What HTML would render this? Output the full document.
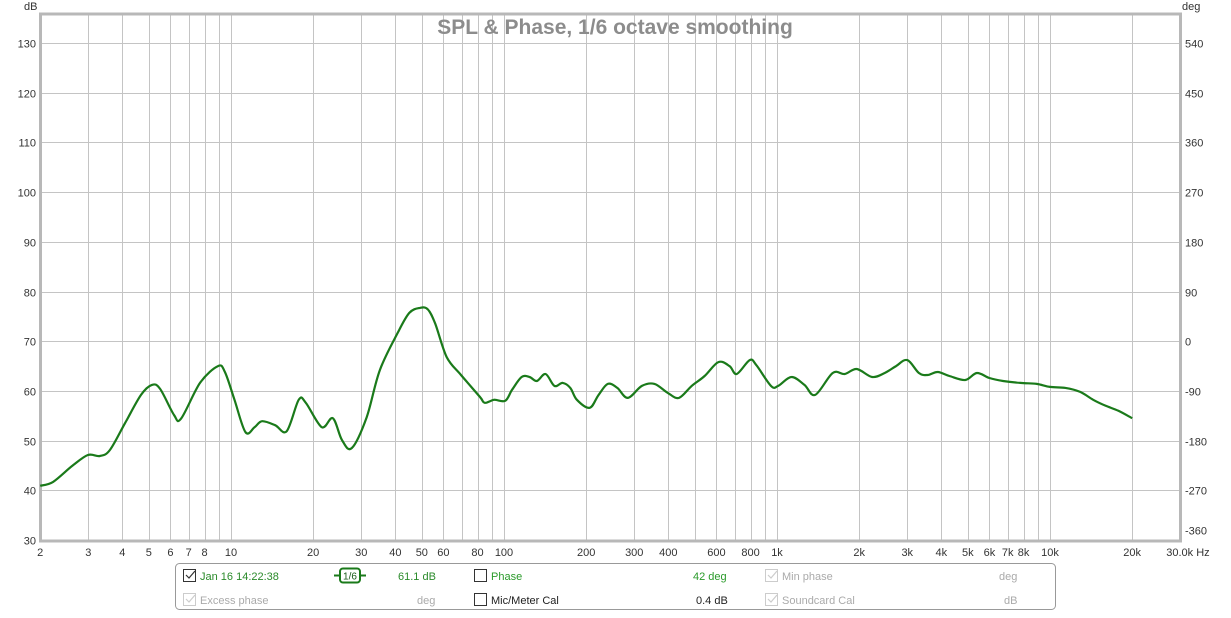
<!DOCTYPE html>
<html><head><meta charset="utf-8"><style>
body{margin:0;background:#fff;font-family:"Liberation Sans",sans-serif;}
svg text{font-family:"Liberation Sans",sans-serif;}
</style></head><body>
<svg id="chart" width="1231" height="613" xmlns="http://www.w3.org/2000/svg">
<rect x="0" y="0" width="1231" height="613" fill="#fff"/>
<g id="grid"></g>
<rect x="40.5" y="14" width="1140" height="527" fill="none" stroke="#b8b8b8" stroke-width="3"/>
<text x="615" y="34" text-anchor="middle" font-size="21" font-weight="bold" fill="#8c8c8c">SPL &amp; Phase, 1/6 octave smoothing</text>
<text x="24" y="10" font-size="11" fill="#333">dB</text>
<text x="1182" y="10" font-size="11" fill="#333">deg</text>
<g id="ylabels"></g>
<g id="y2labels"></g>
<g id="xlabels"></g>
<path id="spl" fill="none" stroke="#1a7a1a" stroke-width="2.2"/>
<g>
<rect x="175.5" y="563.5" width="880" height="46" rx="4" fill="#fff" stroke="#999"/>
<rect x="183.5" y="569.5" width="12" height="12" fill="#fff" stroke="#333"/>
<path d="M186 575 l3 3 l6 -7" fill="none" stroke="#333" stroke-width="1.2"/>
<text x="200" y="580" font-size="11" fill="#2a8a2a">Jan 16 14:22:38</text>
<g>
<line x1="334" y1="575.5" x2="366" y2="575.5" stroke="#1a7a1a" stroke-width="2"/>
<rect x="340" y="568.5" width="20" height="14" rx="3" fill="#fff" stroke="#1a7a1a" stroke-width="2"/>
<text x="350" y="579.5" font-size="10" text-anchor="middle" fill="#1a5a1a">1/6</text>
</g>
<text x="398" y="580" font-size="11" fill="#2a8a2a">61.1 dB</text>
<rect x="474.5" y="569.5" width="12" height="12" fill="#fff" stroke="#333"/>
<text x="491" y="580" font-size="11" fill="#2a9a2a">Phase</text>
<text x="693" y="580" font-size="11" fill="#2a9a2a">42 deg</text>
<rect x="765.5" y="569.5" width="12" height="12" fill="#fff" stroke="#ccc"/>
<path d="M768 575 l3 3 l6 -7" fill="none" stroke="#ccc" stroke-width="1.2"/>
<text x="782" y="580" font-size="11" fill="#aaa">Min phase</text>
<text x="999" y="580" font-size="11" fill="#aaa">deg</text>
<rect x="183.5" y="593.5" width="12" height="12" fill="#fff" stroke="#ccc"/>
<path d="M186 599 l3 3 l6 -7" fill="none" stroke="#ccc" stroke-width="1.2"/>
<text x="200" y="604" font-size="11" fill="#aaa">Excess phase</text>
<text x="417" y="604" font-size="11" fill="#aaa">deg</text>
<rect x="474.5" y="593.5" width="12" height="12" fill="#fff" stroke="#333"/>
<text x="491" y="604" font-size="11" fill="#222">Mic/Meter Cal</text>
<text x="696" y="604" font-size="11" fill="#222">0.4 dB</text>
<rect x="765.5" y="593.5" width="12" height="12" fill="#fff" stroke="#ccc"/>
<path d="M768 599 l3 3 l6 -7" fill="none" stroke="#ccc" stroke-width="1.2"/>
<text x="782" y="604" font-size="11" fill="#aaa">Soundcard Cal</text>
<text x="1004" y="604" font-size="11" fill="#aaa">dB</text>
</g>
</svg>
<script>
const freqs=[2,2.23,2.62,2.99,3.31,3.6,4.09,4.68,5.13,5.5,6.18,6.56,7.7,8.96,9.5,10.3,11.3,12.2,13,14.5,16,17.7,18.8,21.5,23.6,25.5,27.7,31.4,35.1,40.9,45,49.2,52.6,56,61.7,69.6,81.6,85,92,101,107,116,124,132,142,153,164,175,185,206,222,240,260,284,320,356,398,437,487,543,610,670,712,794,840,951,1010,1130,1260,1380,1600,1770,1960,2230,2480,2730,3000,3310,3560,3880,4280,4890,5400,6000,6730,7790,8940,10000,11400,12900,14400,16000,17800,20000];
const spl=[40.9,41.7,44.9,47.1,46.9,48.1,53.5,59.2,61.2,60.4,55.2,54.4,61.6,65,63.8,58.2,51.7,52.7,53.9,53.1,51.9,58.2,57.6,52.7,54.5,50.1,48.5,54.7,64.2,71.8,75.7,76.7,76.4,73.5,66.8,63.2,58.8,57.6,58.2,58,60.2,62.8,62.8,62,63.4,61,61.6,60.6,58.2,56.6,59.2,61.4,60.6,58.6,61,61.4,59.6,58.6,61,63,65.8,65,63.4,66.2,65.2,61,61,62.8,61.2,59.2,63.6,63.4,64.4,62.8,63.6,65,66.2,63.6,63.2,63.8,63,62.2,63.6,62.6,62,61.6,61.4,60.8,60.6,59.8,58.2,57,56,54.5];
const yTicks=[30,40,50,60,70,80,90,100,110,120,130];
const y2Ticks=[-360,-270,-180,-90,0,90,180,270,360,450,540];
const xTickVals=[2,3,4,5,6,7,8,10,20,30,40,50,60,80,100,200,300,400,600,800,1000,2000,3000,4000,5000,6000,7000,8000,10000,20000,30000];
const xTickLabels=["2","3","4","5","6","7","8","10","20","30","40","50","60","80","100","200","300","400","600","800","1k","2k","3k","4k","5k","6k","7k","8k","10k","20k","30.0k Hz"];
const NS="http://www.w3.org/2000/svg";
function xs(f){return 231+273*(Math.log10(f)-1);}
function ys(v){return 43+(130-v)*4.97;}
const grid=document.getElementById('grid');
function mk(tag,attrs,parent){const e=document.createElementNS(NS,tag);for(const k in attrs)e.setAttribute(k,attrs[k]);parent.appendChild(e);return e;}
for(let d=1;d<=10000;d*=10){for(let m=1;m<=9;m++){const f=d*m;if(f<2||f>30000)continue;const x=Math.round(xs(f))+0.5;
const l=mk('line',{x1:x,x2:x,y1:14,y2:541,stroke:'#c4c4c4','stroke-width':1},grid);

}}
{const x=Math.round(xs(20000))+0.5;const l=mk('line',{x1:x,x2:x,y1:14,y2:541,stroke:'#c4c4c4'},grid);

}
const yl=document.getElementById('ylabels'),y2l=document.getElementById('y2labels'),xl=document.getElementById('xlabels');
yTicks.forEach((v,i)=>{const y=Math.round(ys(v))+0.5;
const l=mk('line',{x1:40,x2:1181,y1:y,y2:y,stroke:'#c4c4c4'},grid);


const t=mk('text',{x:36,y:y+4,'text-anchor':'end','font-size':11,fill:'#333'},yl);t.textContent=v;


const t2=mk('text',{x:1185,y:y+(i===0?-6:4),'font-size':11,fill:'#333'},y2l);t2.textContent=y2Ticks[i];

});
xTickVals.forEach((f,i)=>{const x=xs(f);const last=i===xTickVals.length-1;
const t=mk('text',{x:last?x-14:x,y:556,'text-anchor':last?'start':'middle','font-size':11,fill:'#333'},xl);t.textContent=xTickLabels[i];

});
const pts=freqs.map((f,i)=>[xs(f),ys(spl[i])]);
let d='M'+pts[0][0].toFixed(1)+' '+pts[0][1].toFixed(1);
for(let i=0;i<pts.length-1;i++){const p0=pts[Math.max(0,i-1)],p1=pts[i],p2=pts[i+1],p3=pts[Math.min(pts.length-1,i+2)];
const c1=[p1[0]+(p2[0]-p0[0])/6,p1[1]+(p2[1]-p0[1])/6],c2=[p2[0]-(p3[0]-p1[0])/6,p2[1]-(p3[1]-p1[1])/6];
d+=' C'+c1[0].toFixed(1)+' '+c1[1].toFixed(1)+' '+c2[0].toFixed(1)+' '+c2[1].toFixed(1)+' '+p2[0].toFixed(1)+' '+p2[1].toFixed(1);}
document.getElementById('spl').setAttribute('d',d);
</script>
</body></html>
